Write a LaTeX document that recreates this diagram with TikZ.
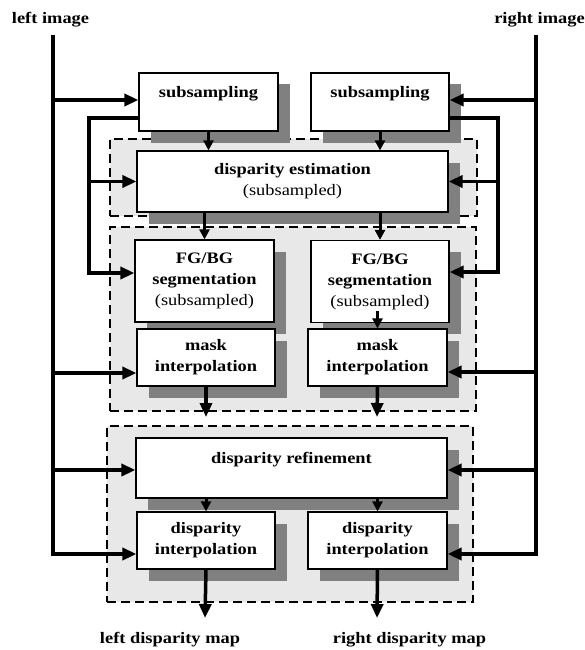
\documentclass[tikz,border=0pt]{standalone}
\usepackage{fontspec}
\setmainfont[FakeStretch=1.15]{Liberation Serif}
\usetikzlibrary{arrows.meta,shadows}

\begin{document}
\begin{tikzpicture}[x=1pt,y=-1pt,
  box/.style={draw,line width=1.2pt,fill=white,align=center,inner sep=0pt,
    font=\fontsize{16}{21}\selectfont\bfseries,
    drop shadow={shadow xshift=11.5pt,shadow yshift=-11.5pt,fill=black!50,opacity=1}},
  group/.style={draw,line width=2.6pt,dash pattern=on 9pt off 5pt,fill=black!9,inner sep=0pt},
  title/.style={font=\fontsize{16}{21}\selectfont\bfseries,inner sep=0pt,anchor=base},
  bus/.style={line width=3.5pt},
  feed/.style={line width=3.5pt,-{Triangle[length=14pt,width=12pt]}},
  flow/.style={line width=3pt,-{Triangle[length=10pt,width=10pt]}}]
\useasboundingbox (0,0) rectangle (585,650);

% dashed stages
\draw (293.5,177.5) node[group,minimum width=367pt,minimum height=77pt] (g1) {};
\draw (293,319) node[group,minimum width=366pt,minimum height=184pt] (g2) {};
\draw (290,514) node[group,minimum width=366pt,minimum height=176pt] (g3) {};

% inputs and outputs
\draw (50.5,24) node[title] (limg) {left image};
\draw (539.5,24) node[title] (rimg) {right image};
\draw (170,643) node[title] (lmap) {left disparity map};
\draw (409.5,643) node[title] (rmap) {right disparity map};

% processing blocks
\draw (208.5,102) node[box,minimum width=139pt,minimum height=58pt] (subL) {subsampling\\~};
\draw (380,102) node[box,minimum width=138pt,minimum height=58pt] (subR) {subsampling\\~};
\draw (292.5,181.5) node[box,minimum width=311pt,minimum height=61pt] (est) {disparity estimation\\\mdseries(subsampled)};
\draw (204.5,281) node[box,minimum width=139pt,minimum height=82pt] (fgL) {FG/BG\\segmentation\\\mdseries(subsampled)};
\draw (380,281.5) node[box,minimum width=138pt,minimum height=82pt] (fgR) {FG/BG\\segmentation\\\mdseries(subsampled)};
\draw (206,357.5) node[box,minimum width=138pt,minimum height=57pt] (maskL) {mask\\interpolation};
\draw (377.5,357.5) node[box,minimum width=139pt,minimum height=57pt] (maskR) {mask\\interpolation};
\draw (291.5,468) node[box,minimum width=311pt,minimum height=60pt] (ref) {disparity refinement\\~};
\draw (206,540.5) node[box,minimum width=138pt,minimum height=57pt] (dispL) {disparity\\interpolation};
\draw (377.5,540.5) node[box,minimum width=139pt,minimum height=57pt] (dispR) {disparity\\interpolation};

% image buses
\coordinate (lt) at (53,35);
\coordinate (rt) at (536,35);
\coordinate (lk) at (89,118);
\coordinate (rk) at (498,118);
\coordinate (lmid) at (206,417);
\coordinate (rmid) at (377,417);
\coordinate (lout) at (205,618);
\coordinate (rout) at (377,618);

\draw[feed] (lt) |- ([yshift=-13.5pt]dispL.west);
\draw[feed] (rt) |- ([yshift=-13.5pt]dispR.east);
\draw[feed] ([yshift=2pt]lt |- subL.west) -- ([yshift=2pt]subL.west);
\draw[feed] ([yshift=2pt]rt |- subR.east) -- ([yshift=2pt]subR.east);
\draw[feed] ([yshift=-15.5pt]lt |- maskL.west) -- ([yshift=-15.5pt]maskL.west);
\draw[feed] ([yshift=-14.5pt]rt |- maskR.east) -- ([yshift=-14.5pt]maskR.east);
\draw[feed] ([yshift=-2pt]lt |- ref.west) -- ([yshift=-2pt]ref.west);
\draw[feed] ([yshift=-2pt]rt |- ref.east) -- ([yshift=-2pt]ref.east);

% subsampled images
\draw[feed] ([yshift=-16pt]subL.west) -- (lk) |- ([yshift=8pt]fgL.west);
\draw[feed] ([yshift=-16pt]subR.east) -- (rk) |- ([yshift=9.5pt]fgR.east);
\draw[feed] (lk |- est.west) -- (est.west);
\draw[feed] (rk |- est.east) -- (est.east);

% data flow
\path (subL.south) edge[flow] (subL.south |- est.north);
\path (subR.south) edge[flow] (subR.south |- est.north);
\path (fgL.north |- est.south) edge[flow] (fgL.north);
\path (fgR.north |- est.south) edge[flow] (fgR.north);
\path ([yshift=12pt]maskR.north |- fgR.south) edge[flow] (maskR.north);
\path (maskL.south) edge[feed] (lmid);
\path (maskR.south) edge[feed] (rmid);
\path (dispL.north |- ref.south) edge[flow] (dispL.north);
\path (dispR.north |- ref.south) edge[flow] (dispR.north);
\path (dispL.south) edge[feed] (lout);
\path (dispR.south) edge[feed] (rout);
\end{tikzpicture}
\end{document}
